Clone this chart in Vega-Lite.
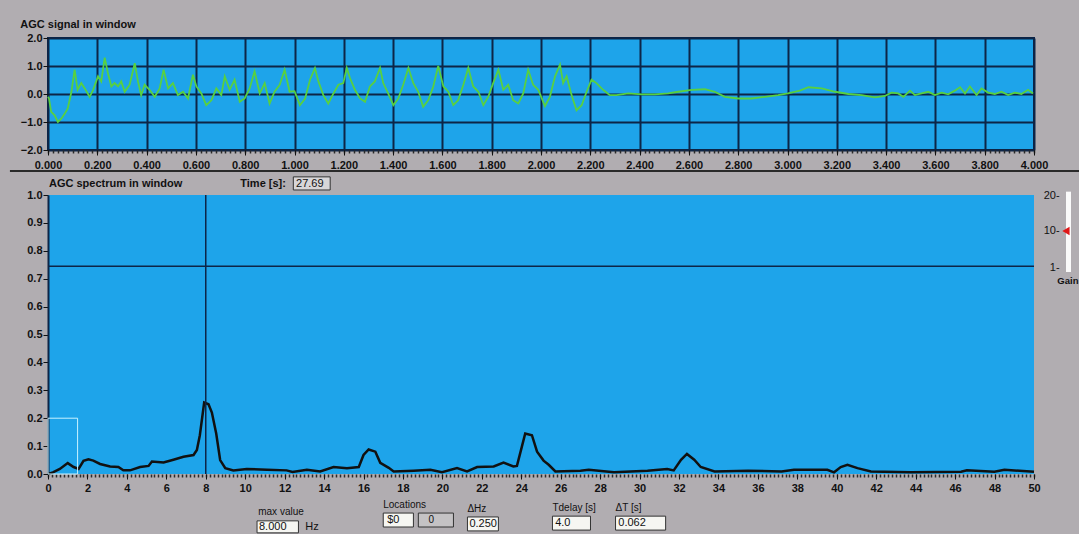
{
  "$schema": "https://vega.github.io/schema/vega-lite/v6.json",
  "background": "#b1adb1",
  "padding": {"left": 8, "top": 18, "right": 0, "bottom": 0},
  "bounds": "flush",
  "spacing": 45,
  "config": {
    "font": "Liberation Sans",
    "axis": {"labelFont": "Liberation Sans", "labelFontWeight": "bold", "labelFontSize": 11, "labelColor": "#111", "tickColor": "#111", "domain": false, "labelFlush": false, "labelOverlap": false, "title": null},
    "title": {"font": "Liberation Sans", "fontSize": 11, "fontWeight": "bold", "color": "#111", "anchor": "start"}
  },
  "datasets": {
    "spec": [
      {"f":0,"a":0.0},{"f":0.25,"a":0.006},{"f":0.6,"a":0.018},{"f":1.0,"a":0.039},{"f":1.3,"a":0.025},{"f":1.55,"a":0.018},{"f":1.8,"a":0.047},{"f":2.05,"a":0.053},{"f":2.3,"a":0.048},{"f":2.64,"a":0.036},{"f":3.15,"a":0.027},{"f":3.57,"a":0.025},{"f":3.82,"a":0.013},{"f":4.16,"a":0.013},{"f":4.67,"a":0.025},{"f":5.1,"a":0.029},{"f":5.27,"a":0.045},{"f":5.86,"a":0.041},{"f":6.36,"a":0.051},{"f":6.87,"a":0.062},{"f":7.38,"a":0.068},{"f":7.55,"a":0.086},{"f":7.7,"a":0.139},{"f":7.92,"a":0.256},{"f":8.14,"a":0.25},{"f":8.31,"a":0.22},{"f":8.53,"a":0.145},{"f":8.73,"a":0.05},{"f":8.99,"a":0.021},{"f":9.4,"a":0.013},{"f":10.08,"a":0.018},{"f":11.1,"a":0.015},{"f":12.1,"a":0.013},{"f":12.4,"a":0.007},{"f":13.13,"a":0.015},{"f":13.8,"a":0.009},{"f":14.48,"a":0.025},{"f":15.16,"a":0.021},{"f":15.76,"a":0.025},{"f":16.0,"a":0.068},{"f":16.26,"a":0.088},{"f":16.6,"a":0.08},{"f":16.85,"a":0.04},{"f":17.28,"a":0.022},{"f":17.53,"a":0.009},{"f":18.54,"a":0.012},{"f":19.39,"a":0.015},{"f":19.98,"a":0.006},{"f":20.74,"a":0.021},{"f":21.25,"a":0.009},{"f":21.76,"a":0.025},{"f":22.6,"a":0.027},{"f":23.1,"a":0.041},{"f":23.6,"a":0.027},{"f":23.78,"a":0.029},{"f":24.03,"a":0.098},{"f":24.2,"a":0.145},{"f":24.54,"a":0.139},{"f":24.8,"a":0.08},{"f":25.13,"a":0.048},{"f":25.39,"a":0.033},{"f":25.73,"a":0.009},{"f":27.0,"a":0.012},{"f":27.42,"a":0.015},{"f":28.7,"a":0.006},{"f":30.4,"a":0.012},{"f":31.4,"a":0.018},{"f":31.73,"a":0.013},{"f":32.1,"a":0.051},{"f":32.4,"a":0.072},{"f":32.77,"a":0.051},{"f":33.1,"a":0.025},{"f":33.8,"a":0.009},{"f":35.5,"a":0.012},{"f":37.2,"a":0.009},{"f":37.83,"a":0.015},{"f":39.52,"a":0.015},{"f":39.86,"a":0.006},{"f":40.2,"a":0.025},{"f":40.54,"a":0.033},{"f":41.05,"a":0.021},{"f":41.73,"a":0.009},{"f":43.76,"a":0.006},{"f":46.3,"a":0.008},{"f":46.6,"a":0.013},{"f":47.99,"a":0.008},{"f":48.5,"a":0.015},{"f":50,"a":0.008}
    ]
  },
  "vconcat": [
    {
      "width": 986, "height": 112,
      "view": {"fill": "#1ea4ea", "stroke": "#0d2547", "strokeWidth": 2},
      "title": {"text": "AGC signal in window", "offset": 2},
      "data": {"values": [
        {"t":0.0,"v":-0.1},{"t":0.004,"v":-0.16},{"t":0.013,"v":-0.64},{"t":0.027,"v":-0.76},{"t":0.04,"v":-1.0},{"t":0.054,"v":-0.88},{"t":0.068,"v":-0.7},{"t":0.08,"v":-0.52},{"t":0.095,"v":0.08},{"t":0.108,"v":0.87},{"t":0.12,"v":0.15},{"t":0.135,"v":0.39},{"t":0.149,"v":0.2},{"t":0.169,"v":-0.1},{"t":0.183,"v":0.15},{"t":0.203,"v":0.63},{"t":0.216,"v":0.45},{"t":0.23,"v":1.3},{"t":0.243,"v":0.75},{"t":0.257,"v":0.27},{"t":0.27,"v":0.39},{"t":0.284,"v":0.27},{"t":0.297,"v":0.45},{"t":0.311,"v":0.08},{"t":0.331,"v":0.33},{"t":0.352,"v":1.1},{"t":0.365,"v":0.45},{"t":0.378,"v":-0.04},{"t":0.392,"v":0.33},{"t":0.412,"v":0.15},{"t":0.433,"v":-0.1},{"t":0.453,"v":0.2},{"t":0.469,"v":0.87},{"t":0.487,"v":0.2},{"t":0.507,"v":0.39},{"t":0.527,"v":-0.04},{"t":0.548,"v":0.08},{"t":0.568,"v":-0.16},{"t":0.588,"v":0.69},{"t":0.602,"v":0.27},{"t":0.622,"v":0.02},{"t":0.642,"v":-0.4},{"t":0.663,"v":-0.22},{"t":0.683,"v":0.2},{"t":0.703,"v":-0.04},{"t":0.717,"v":0.63},{"t":0.737,"v":0.15},{"t":0.757,"v":0.51},{"t":0.778,"v":-0.28},{"t":0.798,"v":-0.16},{"t":0.818,"v":0.2},{"t":0.838,"v":0.81},{"t":0.859,"v":0.02},{"t":0.879,"v":0.39},{"t":0.899,"v":-0.34},{"t":0.919,"v":0.08},{"t":0.94,"v":0.33},{"t":0.96,"v":0.87},{"t":0.98,"v":0.08},{"t":1.0,"v":0.1},{"t":1.022,"v":-0.4},{"t":1.043,"v":-0.16},{"t":1.063,"v":0.51},{"t":1.083,"v":0.93},{"t":1.097,"v":0.45},{"t":1.117,"v":-0.04},{"t":1.137,"v":-0.34},{"t":1.158,"v":0.02},{"t":1.178,"v":0.33},{"t":1.198,"v":0.39},{"t":1.212,"v":0.93},{"t":1.225,"v":0.57},{"t":1.245,"v":0.15},{"t":1.266,"v":-0.16},{"t":1.286,"v":-0.28},{"t":1.306,"v":0.27},{"t":1.326,"v":0.45},{"t":1.347,"v":0.93},{"t":1.36,"v":0.39},{"t":1.38,"v":0.02},{"t":1.401,"v":-0.4},{"t":1.421,"v":-0.16},{"t":1.441,"v":0.33},{"t":1.462,"v":0.93},{"t":1.482,"v":0.39},{"t":1.502,"v":0.08},{"t":1.522,"v":-0.46},{"t":1.543,"v":-0.22},{"t":1.563,"v":0.27},{"t":1.583,"v":1.0},{"t":1.604,"v":0.27},{"t":1.624,"v":0.08},{"t":1.644,"v":-0.4},{"t":1.664,"v":-0.22},{"t":1.685,"v":0.33},{"t":1.705,"v":0.93},{"t":1.725,"v":0.27},{"t":1.746,"v":0.08},{"t":1.766,"v":-0.4},{"t":1.786,"v":-0.1},{"t":1.806,"v":0.39},{"t":1.827,"v":0.87},{"t":1.847,"v":0.15},{"t":1.867,"v":0.33},{"t":1.887,"v":-0.22},{"t":1.908,"v":-0.34},{"t":1.928,"v":0.02},{"t":1.948,"v":0.87},{"t":1.968,"v":0.33},{"t":1.989,"v":0.15},{"t":2.016,"v":-0.43},{"t":2.036,"v":-0.1},{"t":2.057,"v":0.63},{"t":2.077,"v":1.05},{"t":2.09,"v":0.39},{"t":2.104,"v":0.63},{"t":2.124,"v":-0.04},{"t":2.144,"v":-0.58},{"t":2.165,"v":-0.4},{"t":2.185,"v":0.08},{"t":2.205,"v":0.51},{"t":2.225,"v":0.39},{"t":2.252,"v":0.15},{"t":2.279,"v":-0.04},{"t":2.306,"v":-0.04},{"t":2.354,"v":0.02},{"t":2.408,"v":-0.01},{"t":2.462,"v":-0.01},{"t":2.516,"v":0.02},{"t":2.557,"v":0.08},{"t":2.611,"v":0.15},{"t":2.665,"v":0.17},{"t":2.705,"v":0.08},{"t":2.746,"v":-0.1},{"t":2.8,"v":-0.16},{"t":2.854,"v":-0.16},{"t":2.908,"v":-0.1},{"t":2.962,"v":-0.04},{"t":3.002,"v":0.02},{"t":3.05,"v":0.12},{"t":3.085,"v":0.24},{"t":3.139,"v":0.2},{"t":3.193,"v":0.08},{"t":3.247,"v":0.0},{"t":3.301,"v":-0.04},{"t":3.355,"v":-0.12},{"t":3.395,"v":-0.07},{"t":3.422,"v":0.05},{"t":3.449,"v":0.02},{"t":3.47,"v":-0.1},{"t":3.497,"v":0.12},{"t":3.517,"v":-0.04},{"t":3.544,"v":0.02},{"t":3.571,"v":0.08},{"t":3.598,"v":-0.04},{"t":3.625,"v":0.05},{"t":3.652,"v":-0.01},{"t":3.679,"v":0.12},{"t":3.7,"v":0.24},{"t":3.72,"v":0.02},{"t":3.74,"v":0.27},{"t":3.767,"v":-0.04},{"t":3.787,"v":0.2},{"t":3.814,"v":0.05},{"t":3.841,"v":0.0},{"t":3.868,"v":0.08},{"t":3.895,"v":-0.04},{"t":3.922,"v":0.05},{"t":3.949,"v":0.0},{"t":3.976,"v":0.15},{"t":3.996,"v":0.02}
      ]},
      "resolve": {"axis": {"x": "independent"}},
      "layer": [
        {
          "mark": {"type": "rule", "opacity": 0},
          "encoding": {
            "x": {"field": "t", "type": "quantitative", "axis": {"orient": "bottom", "tickCount": 200, "labels": false, "grid": false, "tickSize": 3, "tickColor": "#2a2a2a", "tickWidth": 1.5}}
          }
        },
        {
          "mark": {"type": "line", "color": "#58d040", "strokeWidth": 1.8},
          "encoding": {
            "x": {"field": "t", "type": "quantitative", "scale": {"domain": [0, 4], "nice": false},
                  "axis": {"orient": "bottom", "values": [0,0.2,0.4,0.6,0.8,1,1.2,1.4,1.6,1.8,2,2.2,2.4,2.6,2.8,3,3.2,3.4,3.6,3.8,4], "format": ".3f", "grid": true, "gridColor": "#0d2547", "gridWidth": 2, "gridOpacity": 1, "tickSize": 5, "labelPadding": 4}},
            "y": {"field": "v", "type": "quantitative", "scale": {"domain": [-2, 2], "nice": false},
                  "axis": {"values": [-2,-1,0,1,2], "format": ".1f", "grid": true, "gridColor": "#0d2547", "gridWidth": 2, "gridOpacity": 1, "tickSize": 5, "labelPadding": 1}}
          }
        }
      ]
    },
    {
      "width": 986, "height": 279,
      "view": {"fill": "#1ea4ea", "stroke": null},
      "resolve": {"axis": {"x": "independent", "y": "independent"}},
      "layer": [
        {
          "data": {"name": "spec"},
          "mark": {"type": "rule", "opacity": 0},
          "encoding": {
            "x": {"field": "f", "type": "quantitative", "axis": {"orient": "bottom", "tickCount": 200, "labels": false, "grid": false, "tickSize": 3, "tickColor": "#2a2a2a", "tickWidth": 1.5}}
          }
        },
        {
          "data": {"name": "spec"},
          "mark": {"type": "line", "color": "#111", "strokeWidth": 2.5},
          "encoding": {
            "x": {"field": "f", "type": "quantitative", "scale": {"domain": [0, 50], "nice": false},
                  "axis": {"orient": "bottom", "values": [0,2,4,6,8,10,12,14,16,18,20,22,24,26,28,30,32,34,36,38,40,42,44,46,48,50], "format": "d", "grid": false, "tickSize": 5, "labelPadding": 3}},
            "y": {"field": "a", "type": "quantitative", "scale": {"domain": [0, 1], "nice": false},
                  "axis": {"orient": "left", "values": [0,0.1,0.2,0.3,0.4,0.5,0.6,0.7,0.8,0.9,1], "format": ".1f", "grid": false, "tickSize": 5, "labelPadding": 1, "domain": true, "domainColor": "#0d2547", "domainWidth": 2}}
          }
        },
        {
          "data": {"values": [{"x": -1.93, "x2": 52.4, "y": 1.086}]},
          "mark": {"type": "rule", "color": "#2a2a2a", "strokeWidth": 2},
          "encoding": {
            "x": {"field": "x", "type": "quantitative", "axis": null},
            "x2": {"field": "x2"},
            "y": {"field": "y", "type": "quantitative", "axis": null}
          }
        },
        {
          "data": {"values": [{"f": 8}]},
          "mark": {"type": "rule", "color": "#0d2547", "strokeWidth": 1.5},
          "encoding": {"x": {"field": "f", "type": "quantitative", "axis": null}}
        },
        {
          "data": {"values": [{"a": 0.745}]},
          "mark": {"type": "rule", "color": "#0d2547", "strokeWidth": 1.5},
          "encoding": {"y": {"field": "a", "type": "quantitative", "axis": null}}
        },
        {
          "data": {"values": [{"x": 0, "x2": 1.5, "y": 0, "y2": 0.2}]},
          "mark": {"type": "rect", "fill": null, "stroke": "#c8f2ff", "strokeWidth": 1},
          "encoding": {
            "x": {"field": "x", "type": "quantitative", "axis": null}, "x2": {"field": "x2"},
            "y": {"field": "y", "type": "quantitative", "axis": null}, "y2": {"field": "y2"}
          }
        },
        {
          "data": {"values": [
            {"x": 12.44, "x2": 14.31, "y": 1.065, "y2": 1.018, "fill": "#d8d6d8"},
            {"x": 10.6, "x2": 12.7, "y": -0.168, "y2": -0.211, "fill": "#f6f6f2"},
            {"x": 17.0, "x2": 18.53, "y": -0.14, "y2": -0.19, "fill": "#f6f6f2"},
            {"x": 18.78, "x2": 20.56, "y": -0.14, "y2": -0.19, "fill": "#c4c2c4"},
            {"x": 21.27, "x2": 22.84, "y": -0.154, "y2": -0.204, "fill": "#f6f6f2"},
            {"x": 25.58, "x2": 27.51, "y": -0.151, "y2": -0.201, "fill": "#f6f6f2"},
            {"x": 28.78, "x2": 31.32, "y": -0.151, "y2": -0.201, "fill": "#f6f6f2"}
          ]},
          "mark": {"type": "rect", "stroke": "#333", "strokeWidth": 1},
          "encoding": {
            "x": {"field": "x", "type": "quantitative", "axis": null}, "x2": {"field": "x2"},
            "y": {"field": "y", "type": "quantitative", "axis": null}, "y2": {"field": "y2"},
            "fill": {"field": "fill", "type": "nominal", "scale": null}
          }
        },
        {
          "data": {"values": [
            {"x": 0.05, "y": 1.039, "label": "AGC spectrum in window"},
            {"x": 9.75, "y": 1.039, "label": "Time [s]:"}
          ]},
          "mark": {"type": "text", "align": "left", "baseline": "middle", "color": "#111", "font": "Liberation Sans", "fontWeight": "bold", "fontSize": 11},
          "encoding": {
            "x": {"field": "x", "type": "quantitative", "axis": null},
            "y": {"field": "y", "type": "quantitative", "axis": null},
            "text": {"field": "label"}
          }
        },
        {
          "data": {"values": [{"x": 51.72, "y": 0.693, "label": "Gain"}]},
          "mark": {"type": "text", "align": "center", "baseline": "middle", "color": "#111", "font": "Liberation Sans", "fontWeight": "bold", "fontSize": 9.5},
          "encoding": {
            "x": {"field": "x", "type": "quantitative", "axis": null},
            "y": {"field": "y", "type": "quantitative", "axis": null},
            "text": {"field": "label"}
          }
        },
        {
          "data": {"values": [
            {"x": 10.66, "y": -0.136, "label": "max value", "s": 10},
            {"x": 17.0, "y": -0.111, "label": "Locations", "s": 10},
            {"x": 21.27, "y": -0.125, "label": "ΔHz", "s": 10},
            {"x": 25.58, "y": -0.122, "label": "Tdelay [s]", "s": 10},
            {"x": 28.78, "y": -0.122, "label": "ΔT [s]", "s": 10},
            {"x": 12.58, "y": 1.041, "label": "27.69", "s": 11},
            {"x": 10.7, "y": -0.19, "label": "8.000", "s": 11},
            {"x": 13.05, "y": -0.19, "label": "Hz", "s": 11},
            {"x": 17.2, "y": -0.165, "label": "$0", "s": 11},
            {"x": 19.3, "y": -0.165, "label": "0", "s": 10},
            {"x": 21.37, "y": -0.179, "label": "0.250", "s": 11},
            {"x": 25.72, "y": -0.176, "label": "4.0", "s": 11},
            {"x": 28.92, "y": -0.176, "label": "0.062", "s": 11}
          ]},
          "mark": {"type": "text", "align": "left", "baseline": "middle", "color": "#111", "font": "Liberation Sans"},
          "encoding": {
            "x": {"field": "x", "type": "quantitative", "axis": null},
            "y": {"field": "y", "type": "quantitative", "axis": null},
            "text": {"field": "label"},
            "size": {"field": "s", "type": "quantitative", "scale": null}
          }
        },
        {
          "data": {"values": [{"x": 51.75, "y": 1.012, "y2": 0.724}]},
          "mark": {"type": "rule", "color": "#fafafa", "strokeWidth": 5},
          "encoding": {
            "x": {"field": "x", "type": "quantitative", "axis": null},
            "y": {"field": "y", "type": "quantitative", "axis": null}, "y2": {"field": "y2"}
          }
        },
        {
          "data": {"values": [{"x": 51.62, "y": 0.871}]},
          "mark": {"type": "point", "shape": "triangle-left", "filled": true, "color": "#e01818", "size": 70, "opacity": 1},
          "encoding": {
            "x": {"field": "x", "type": "quantitative", "axis": null},
            "y": {"field": "y", "type": "quantitative", "axis": null}
          }
        },
        {
          "data": {"values": [
            {"x": 51.3, "y": 0.996, "label": "20-"},
            {"x": 51.3, "y": 0.871, "label": "10-"},
            {"x": 51.3, "y": 0.738, "label": "1-"}
          ]},
          "mark": {"type": "text", "align": "right", "baseline": "middle", "color": "#111", "fontSize": 11, "font": "Liberation Sans"},
          "encoding": {
            "x": {"field": "x", "type": "quantitative", "axis": null},
            "y": {"field": "y", "type": "quantitative", "axis": null},
            "text": {"field": "label"}
          }
        }
      ]
    }
  ]
}
